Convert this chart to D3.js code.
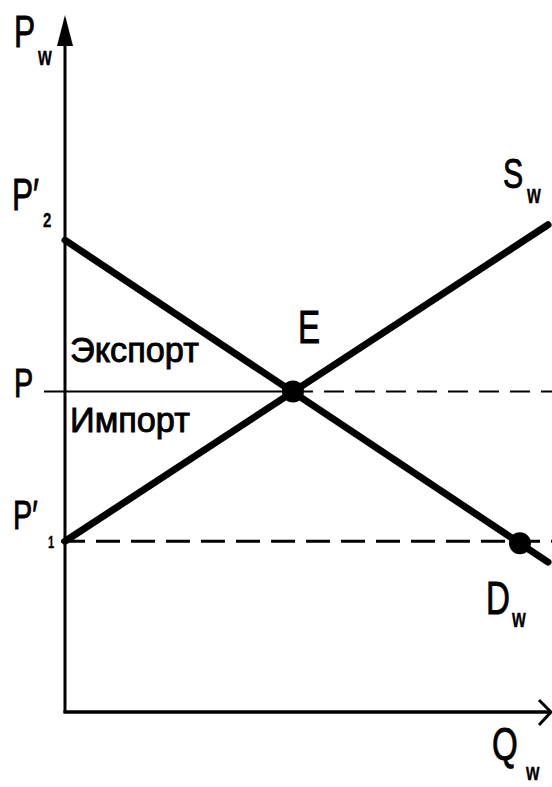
<!DOCTYPE html>
<html><head><meta charset="utf-8">
<script src="https://cdn.jsdelivr.net/npm/d3@7"></script>
<style>html,body{margin:0;padding:0;background:#fff;}svg{display:block;}</style>
</head><body>
<script>
// Data (model units)
const priceLevels = { P1: 2.45, P: 4.6, P2: 6.77 };
const demandLine = [ {q: 0, p: 6.77}, {q: 9.96, p: 2.15} ];
const supplyLine = [ {q: 0, p: 2.45}, {q: 9.96, p: 6.99} ];
const points = [ {name: "E", q: 4.7, p: 4.6}, {name: "D", q: 9.38, p: 2.42} ];
const regionLabels = ["Экспорт", "Импорт"];

const W = 552, H = 787;
const svg = d3.select("body").append("svg").attr("width", W).attr("height", H);
const x = d3.scaleLinear().domain([0, 10]).range([65, 550]);
const y = d3.scaleLinear().domain([0, 10]).range([712, 15]);
const font = "'Liberation Sans', Arial, sans-serif";

// axes
svg.append("line").attr("x1", x(0)).attr("x2", x(0)).attr("y1", y(0)+1).attr("y2", 40)
  .attr("stroke", "#000").attr("stroke-width", 3);
svg.append("path").attr("d", `M${x(0)},15 L${x(0)-8},46 L${x(0)+8},46 Z`).attr("fill", "#000");
svg.append("line").attr("x1", x(0)-1.5).attr("x2", 550).attr("y1", y(0)).attr("y2", y(0))
  .attr("stroke", "#000").attr("stroke-width", 3.5);
svg.append("path").attr("d", `M539,700 L551,${y(0)} L539,725`).attr("fill", "none")
  .attr("stroke", "#000").attr("stroke-width", 3);

// P line: solid to E, dashed after
const E = points[0], D = points[1];
svg.append("line").attr("x1", 44).attr("x2", x(E.q)).attr("y1", y(priceLevels.P)).attr("y2", y(priceLevels.P))
  .attr("stroke", "#000").attr("stroke-width", 2);
svg.append("line").attr("x1", x(E.q)).attr("x2", 552).attr("y1", y(priceLevels.P)).attr("y2", y(priceLevels.P))
  .attr("stroke", "#000").attr("stroke-width", 2).attr("stroke-dasharray", "20,11");
// P1 dashed line
svg.append("line").attr("x1", x(0)-4).attr("x2", 552).attr("y1", y(priceLevels.P1)).attr("y2", y(priceLevels.P1))
  .attr("stroke", "#000").attr("stroke-width", 3).attr("stroke-dasharray", "24,11");

// demand and supply
const line = d3.line().x(d => x(d.q)).y(d => y(d.p));
[demandLine, supplyLine].forEach(l => {
  svg.append("path").attr("d", line(l)).attr("fill", "none").attr("stroke", "#000")
    .attr("stroke-width", 7).attr("stroke-linecap", "round");
});
// points
svg.selectAll("circle.pt").data(points).enter().append("circle")
  .attr("cx", d => x(d.q)).attr("cy", d => y(d.p)).attr("r", 11).attr("fill", "#000");

// labels
function lab(txt, px, py, size, sx, bold) {
  svg.append("text").attr("transform", `translate(${px},${py}) scale(${sx||1},1)`)
    .attr("font-family", font).attr("font-size", size)
    .attr("font-weight", bold ? "bold" : "normal")
    .attr("fill", "#000").attr("stroke", "#000").attr("stroke-width", bold ? 0.3 : 0.9)
    .text(txt);
}
const BIG = 44, BSX = 0.72, SUB = 26, SSX = 0.68;
lab("P", 14, 47, BIG, BSX); lab("w", 38, 65, SUB, SSX, true);
lab("P′", 12, 210, BIG, BSX); lab("2", 43, 227, 20, 0.75, true);
lab("P", 14, 397, 40, BSX);
lab("P′", 13, 529, 40, BSX); lab("1", 48, 548, 16, 0.7, true);
lab(regionLabels[0], 70, 362, 35, 0.98);
lab(regionLabels[1], 70, 432, 35, 0.98);
lab("E", 298, 343, 46, BSX);
lab("S", 503, 188, 42, BSX); lab("w", 527, 203, SUB, SSX, true);
lab("D", 486, 614, 46, BSX); lab("w", 512, 627, SUB, SSX, true);
lab("Q", 492, 760, 46, BSX); lab("w", 526, 780, 24, 0.72, true);
</script>
</body></html>
